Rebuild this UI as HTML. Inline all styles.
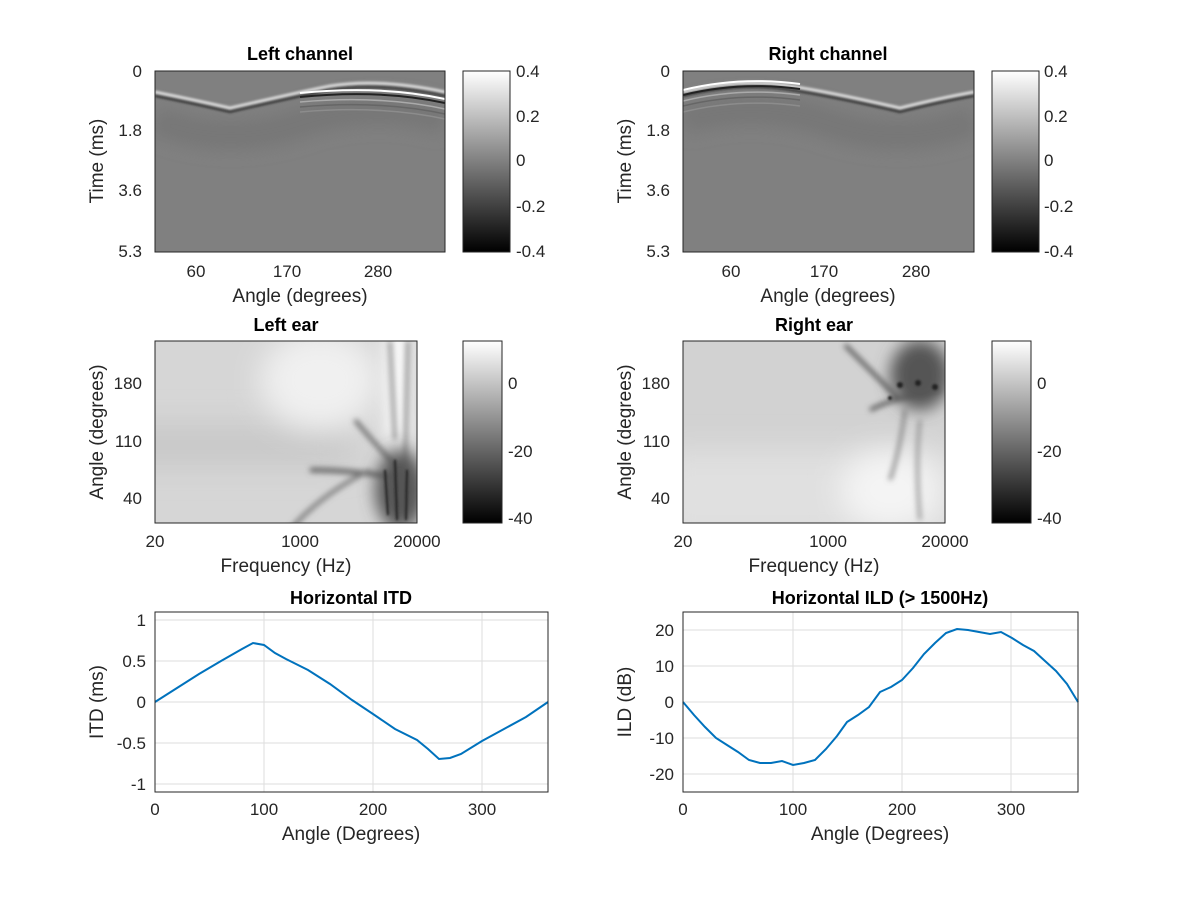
<!DOCTYPE html>
<html><head><meta charset="utf-8"><style>
html,body{margin:0;padding:0;background:#fff}
svg{display:block}
text{font-family:"Liberation Sans",Helvetica,sans-serif;fill:#262626}
.t{font-size:17px}
.a{font-size:19px}
.b{font-size:18px;font-weight:bold;fill:#000}
</style></head><body>
<svg width="1200" height="900" viewBox="0 0 1200 900" xmlns="http://www.w3.org/2000/svg">
<defs>
<linearGradient id="cb" x1="0" y1="0" x2="0" y2="1">
<stop offset="0" stop-color="#fff"/><stop offset="1" stop-color="#000"/></linearGradient>
<filter id="bl1" filterUnits="userSpaceOnUse" x="0" y="0" width="1200" height="900"><feGaussianBlur stdDeviation="1"/></filter>
<filter id="bl3" filterUnits="userSpaceOnUse" x="0" y="0" width="1200" height="900"><feGaussianBlur stdDeviation="3"/></filter>
<filter id="bl8" filterUnits="userSpaceOnUse" x="0" y="0" width="1200" height="900"><feGaussianBlur stdDeviation="8"/></filter>
<filter id="bl15" filterUnits="userSpaceOnUse" x="0" y="0" width="1200" height="900"><feGaussianBlur stdDeviation="15"/></filter>
<clipPath id="c1"><rect x="155" y="71" width="290" height="181"/></clipPath>
<clipPath id="c2"><rect x="683" y="71" width="291" height="181"/></clipPath>
<clipPath id="c3"><rect x="155" y="341" width="262" height="182"/></clipPath>
<clipPath id="c4"><rect x="683" y="341" width="262" height="182"/></clipPath>
</defs>

<!-- Top left -->
<g clip-path="url(#c1)">
<rect x="155" y="71" width="290" height="181" fill="#808080"/>
<g fill="none">
<path d="M155,120 Q230,150 310,120 Q380,100 445,120" stroke="#777" stroke-width="30" filter="url(#bl8)"/>
<path d="M155,92 Q195,100 230,108 Q300,92 330,86 Q380,78 445,92" stroke="#d8d8d8" stroke-width="3" filter="url(#bl1)"/>
<path d="M155,96 Q195,104 230,112 Q300,96 330,90 Q380,82 445,96" stroke="#333" stroke-width="2" filter="url(#bl1)"/>
<path d="M300,93 Q380,85 445,99" stroke="#fff" stroke-width="2"/>
<path d="M300,97 Q380,89 445,103" stroke="#222" stroke-width="2"/>
<path d="M300,102 Q380,95 445,109" stroke="#aaa" stroke-width="1.5"/>
<path d="M300,107 Q380,100 445,114" stroke="#666" stroke-width="1.5"/>
<path d="M300,112 Q380,105 445,119" stroke="#8c8c8c" stroke-width="1.5"/>
</g>
</g>
<rect x="155" y="71" width="290" height="181" fill="none" stroke="#262626"/>
<text class="b" x="300" y="60" text-anchor="middle">Left channel</text>
<g class="t" text-anchor="end">
<text x="142" y="77">0</text><text x="142" y="136">1.8</text><text x="142" y="196">3.6</text><text x="142" y="257">5.3</text></g>
<g class="t" text-anchor="middle"><text x="196" y="277">60</text><text x="287" y="277">170</text><text x="378" y="277">280</text></g>
<text class="a" x="300" y="302" text-anchor="middle">Angle (degrees)</text>
<text class="a" transform="translate(103,161) rotate(-90)" text-anchor="middle">Time (ms)</text>
<rect x="463" y="71" width="47" height="181" fill="url(#cb)" stroke="#262626"/>
<g class="t"><text x="516" y="77">0.4</text><text x="516" y="122">0.2</text><text x="516" y="166">0</text><text x="516" y="212">-0.2</text><text x="516" y="257">-0.4</text></g>

<!-- Top right -->
<g clip-path="url(#c2)">
<rect x="683" y="71" width="291" height="181" fill="#808080"/>
<g fill="none">
<path d="M683,120 Q750,100 820,120 Q900,150 974,120" stroke="#777" stroke-width="30" filter="url(#bl8)"/>
<path d="M683,92 Q740,78 790,86 Q830,92 900,108 Q940,98 974,92" stroke="#d8d8d8" stroke-width="3" filter="url(#bl1)"/>
<path d="M683,96 Q740,82 790,90 Q830,96 900,112 Q940,102 974,96" stroke="#333" stroke-width="2" filter="url(#bl1)"/>
<path d="M683,90 Q740,76 800,84" stroke="#fff" stroke-width="2"/>
<path d="M683,95 Q740,81 800,89" stroke="#222" stroke-width="2"/>
<path d="M683,101 Q740,87 800,95" stroke="#aaa" stroke-width="1.5"/>
<path d="M683,106 Q740,92 800,100" stroke="#666" stroke-width="1.5"/>
<path d="M683,112 Q740,98 800,106" stroke="#8c8c8c" stroke-width="1.5"/>
</g>
</g>
<rect x="683" y="71" width="291" height="181" fill="none" stroke="#262626"/>
<text class="b" x="828" y="60" text-anchor="middle">Right channel</text>
<g class="t" text-anchor="end">
<text x="670" y="77">0</text><text x="670" y="136">1.8</text><text x="670" y="196">3.6</text><text x="670" y="257">5.3</text></g>
<g class="t" text-anchor="middle"><text x="731" y="277">60</text><text x="824" y="277">170</text><text x="916" y="277">280</text></g>
<text class="a" x="828" y="302" text-anchor="middle">Angle (degrees)</text>
<text class="a" transform="translate(631,161) rotate(-90)" text-anchor="middle">Time (ms)</text>
<rect x="992" y="71" width="47" height="181" fill="url(#cb)" stroke="#262626"/>
<g class="t"><text x="1044" y="77">0.4</text><text x="1044" y="122">0.2</text><text x="1044" y="166">0</text><text x="1044" y="212">-0.2</text><text x="1044" y="257">-0.4</text></g>

<!-- Middle left -->
<g clip-path="url(#c3)">
<rect x="155" y="341" width="262" height="182" fill="#d6d6d6"/>
<rect x="120" y="425" width="230" height="40" fill="#c8c8c8" filter="url(#bl15)"/>
<ellipse cx="320" cy="380" rx="60" ry="50" fill="#f0f0f0" filter="url(#bl15)"/>
<rect x="385" y="330" width="25" height="110" fill="#fafafa" filter="url(#bl8)"/>
<g fill="none" filter="url(#bl3)">
<path d="M310,470 Q350,470 400,478" stroke-width="5" stroke="#666"/>
<path d="M290,530 Q320,495 370,470" stroke-width="4" stroke="#777"/>
<path d="M355,420 Q380,450 400,470" stroke-width="4" stroke="#666"/>
<path d="M390,341 L395,440" stroke-width="3" stroke="#777"/>
<path d="M408,341 L405,470" stroke-width="3" stroke="#777"/>
</g>
<ellipse cx="400" cy="490" rx="25" ry="40" fill="#555" filter="url(#bl8)"/>
<g stroke="#222" stroke-width="2" filter="url(#bl1)"><path d="M395,460 L397,520 M407,470 L406,520 M385,470 L388,515"/></g>
</g>
<rect x="155" y="341" width="262" height="182" fill="none" stroke="#262626"/>
<text class="b" x="286" y="331" text-anchor="middle">Left ear</text>
<g class="t" text-anchor="end"><text x="142" y="389">180</text><text x="142" y="447">110</text><text x="142" y="504">40</text></g>
<g class="t" text-anchor="middle"><text x="155" y="547">20</text><text x="300" y="547">1000</text><text x="417" y="547">20000</text></g>
<text class="a" x="286" y="572" text-anchor="middle">Frequency (Hz)</text>
<text class="a" transform="translate(103,432) rotate(-90)" text-anchor="middle">Angle (degrees)</text>
<rect x="463" y="341" width="39" height="182" fill="url(#cb)" stroke="#262626"/>
<g class="t"><text x="508" y="389">0</text><text x="508" y="457">-20</text><text x="508" y="524">-40</text></g>

<!-- Middle right -->
<g clip-path="url(#c4)">
<rect x="683" y="341" width="262" height="182" fill="#d2d2d2"/>
<rect x="660" y="450" width="300" height="90" fill="#e0e0e0" filter="url(#bl15)"/>
<ellipse cx="890" cy="490" rx="50" ry="40" fill="#f4f4f4" filter="url(#bl15)"/>
<g fill="none" filter="url(#bl3)">
<path d="M845,345 Q880,380 900,400" stroke-width="4" stroke="#555"/>
<path d="M870,410 Q900,395 940,390" stroke-width="4" stroke="#555"/>
<path d="M905,410 Q900,450 890,480" stroke-width="3" stroke="#777"/>
<path d="M920,420 Q915,460 920,520" stroke-width="3" stroke="#888"/>
</g>
<ellipse cx="920" cy="375" rx="30" ry="35" fill="#555" filter="url(#bl8)"/>
<g fill="#222" filter="url(#bl1)"><circle cx="900" cy="385" r="3"/><circle cx="918" cy="383" r="3"/><circle cx="935" cy="387" r="3"/><circle cx="890" cy="398" r="2"/></g>
</g>
<rect x="683" y="341" width="262" height="182" fill="none" stroke="#262626"/>
<text class="b" x="814" y="331" text-anchor="middle">Right ear</text>
<g class="t" text-anchor="end"><text x="670" y="389">180</text><text x="670" y="447">110</text><text x="670" y="504">40</text></g>
<g class="t" text-anchor="middle"><text x="683" y="547">20</text><text x="828" y="547">1000</text><text x="945" y="547">20000</text></g>
<text class="a" x="814" y="572" text-anchor="middle">Frequency (Hz)</text>
<text class="a" transform="translate(631,432) rotate(-90)" text-anchor="middle">Angle (degrees)</text>
<rect x="992" y="341" width="39" height="182" fill="url(#cb)" stroke="#262626"/>
<g class="t"><text x="1037" y="389">0</text><text x="1037" y="457">-20</text><text x="1037" y="524">-40</text></g>

<!-- ITD -->
<g stroke="#dedede" stroke-width="1">
<path d="M264,612V792M373,612V792M482,612V792"/>
<path d="M155,620H548M155,661H548M155,702H548M155,743H548M155,784H548"/>
</g>
<polyline fill="none" stroke="#0072bd" stroke-width="2" points="155,702 177,688 199,674 221,661 242,649 253,643 264,645 275,653 286,659 308,670 330,684 352,700 373,714 395,729 417,740 428,749 439,759 450,758 461,754 482,741 504,729 526,717 548,702"/>
<rect x="155" y="612" width="393" height="180" fill="none" stroke="#262626"/>
<text class="b" x="351" y="604" text-anchor="middle">Horizontal ITD</text>
<g class="t" text-anchor="end"><text x="146" y="626">1</text><text x="146" y="667">0.5</text><text x="146" y="708">0</text><text x="146" y="749">-0.5</text><text x="146" y="790">-1</text></g>
<g class="t" text-anchor="middle"><text x="155" y="815">0</text><text x="264" y="815">100</text><text x="373" y="815">200</text><text x="482" y="815">300</text></g>
<text class="a" x="351" y="840" text-anchor="middle">Angle (Degrees)</text>
<text class="a" transform="translate(103,702) rotate(-90)" text-anchor="middle">ITD (ms)</text>

<!-- ILD -->
<g stroke="#dedede" stroke-width="1">
<path d="M793,612V792M902,612V792M1011,612V792"/>
<path d="M683,630H1078M683,666H1078M683,702H1078M683,738H1078M683,774H1078"/>
</g>
<polyline fill="none" stroke="#0072bd" stroke-width="2" points="683,702 694,715 705,727 716,738 727,745 738,752 749,760 760,763 771,763 782,761 793,765 804,763 815,760 826,749 837,736 847,722 858,715 869,707 880,692 891,687 902,680 913,668 924,654 935,643 946,633 957,629 968,630 979,632 990,634 1001,632 1012,638 1023,645 1034,651 1045,661 1056,671 1067,684 1078,702"/>
<rect x="683" y="612" width="395" height="180" fill="none" stroke="#262626"/>
<text class="b" x="880" y="604" text-anchor="middle">Horizontal ILD (&gt; 1500Hz)</text>
<g class="t" text-anchor="end"><text x="674" y="636">20</text><text x="674" y="672">10</text><text x="674" y="708">0</text><text x="674" y="744">-10</text><text x="674" y="780">-20</text></g>
<g class="t" text-anchor="middle"><text x="683" y="815">0</text><text x="793" y="815">100</text><text x="902" y="815">200</text><text x="1011" y="815">300</text></g>
<text class="a" x="880" y="840" text-anchor="middle">Angle (Degrees)</text>
<text class="a" transform="translate(631,702) rotate(-90)" text-anchor="middle">ILD (dB)</text>
</svg>
</body></html>
